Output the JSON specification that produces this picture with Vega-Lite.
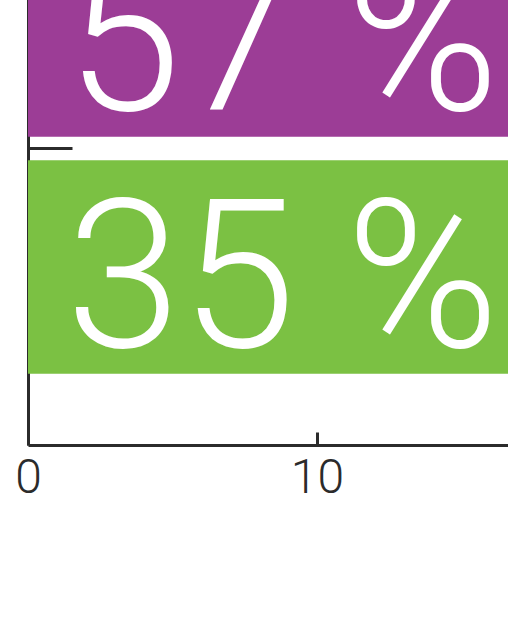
{
  "$schema": "https://vega.github.io/schema/vega-lite/v6.json",
  "width": 480,
  "height": 593,
  "autosize": {"type": "none"},
  "padding": {"left": 28, "top": -148, "right": 0, "bottom": 175},
  "background": "white",
  "config": {"view": {"stroke": null}},
  "data": {"values": [
    {"group": "A", "value": 57, "label": "57 %"},
    {"group": "B", "value": 35, "label": "35 %"}
  ]},
  "encoding": {
    "y": {
      "field": "group", "type": "nominal", "sort": null,
      "scale": {"paddingInner": 0.1, "paddingOuter": 0.3},
      "axis": {
        "title": null, "labels": false, "grid": false,
        "values": ["A"], "bandPosition": 1.056,
        "tickSize": -44, "tickWidth": 3,
        "tickColor": "#2b2b2b", "domainColor": "#2b2b2b", "domainWidth": 3
      }
    }
  },
  "layer": [
    {
      "mark": {"type": "bar", "clip": true},
      "encoding": {
        "x": {
          "field": "value", "type": "quantitative",
          "scale": {"domain": [0, 16.61], "nice": false, "zero": true},
          "axis": {
            "values": [0, 10], "title": null, "grid": false,
            "labelFontSize": 48, "labelFont": "Roboto", "labelFontWeight": 300,
            "labelColor": "#2b2b2b", "labelFlush": false, "labelPadding": 22,
            "tickSize": -13, "tickWidth": 3, "tickColor": "#2b2b2b",
            "domainColor": "#2b2b2b", "domainWidth": 3
          }
        },
        "color": {
          "field": "group", "type": "nominal",
          "scale": {"range": ["#9c3d96", "#7bc143"]},
          "legend": null
        }
      }
    },
    {
      "mark": {
        "type": "text", "align": "left", "baseline": "alphabetic",
        "dx": 38, "dy": 80, "font": "Roboto", "fontWeight": 300,
        "fontSize": 207, "color": "white"
      },
      "encoding": {
        "x": {"datum": 0, "type": "quantitative"},
        "text": {"field": "label"}
      }
    }
  ]
}
